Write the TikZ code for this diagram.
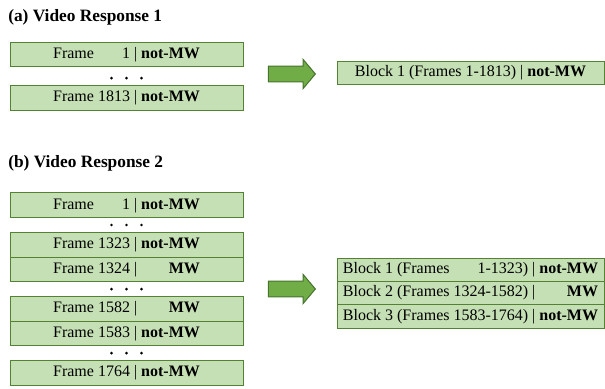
\documentclass[tikz,border=0pt]{standalone}
\usepackage{fontspec}
\setmainfont{Liberation Serif}
\usetikzlibrary{positioning,calc,shapes.arrows}
\definecolor{RowFill}{RGB}{197,224,180}
\definecolor{RowLine}{RGB}{ 84,130, 53}
\definecolor{ArrFill}{RGB}{112,173, 71}
\definecolor{ArrLine}{RGB}{ 70,115, 45}
%% 右对齐的帧号 / 标签 / 区间
\newcommand{\fno}[1]{\hphantom{1813}\llap{#1}}
\newcommand{\tagmw}[1]{\hphantom{\textbf{not-MW}}\llap{\textbf{#1}}}
\newcommand{\frng}[1]{\hphantom{1324-1582}\llap{#1}}
\tikzset{
  %% 帧行
  frow/.style={rectangle,draw=RowLine,fill=RowFill,line width=0.75pt,
               minimum width=174.75pt,minimum height=18.4pt,
               inner sep=0pt,outer sep=0pt,
               font=\fontsize{12}{14}\selectfont,align=center},
  %% 块行
  brow/.style={rectangle,draw=RowLine,fill=RowFill,line width=0.75pt,
               minimum width=200.25pt,minimum height=17.5pt,
               inner sep=0pt,outer sep=0pt,
               font=\fontsize{12}{14}\selectfont,align=center},
  %% 标题
  ttl/.style={anchor=base west,inner sep=0pt,
              font=\fontsize{13}{15}\selectfont\bfseries},
  %% 大箭头
  bigarr/.style={single arrow,draw=ArrLine,fill=ArrFill,line width=0.75pt,
                 minimum height=35.25pt,inner xsep=0pt,inner ysep=5.6pt,
                 single arrow head extend=4.9pt,single arrow tip angle=100},
}

\begin{document}
\begin{tikzpicture}[x=0.75pt,y=-0.75pt]
  \useasboundingbox (0,0) rectangle (605,388);
  %% (a)
  \node[ttl] (TA) at (8,22) {(a) Video Response 1};
  \node[frow] (A1) at (126.5,54.5) {Frame \fno{1} | \tagmw{not-MW}};
  \node[frow,below=14.25pt of A1] (A2) {Frame 1813 | \tagmw{not-MW}};
  \coordinate (DA) at ($(A1.south)!0.6!(A2.north)$);
  \foreach \dx in {-15,0,15} \fill ($(DA)+(\dx,0)$) circle (1.1pt);
  \node[bigarr] (ARA) at (288.5,74) {};
  \node[brow] (BA) at (470.5,73) {Block 1 (Frames 1-1813) | \textbf{not-MW}};

  %% (b)
  \node[ttl] (TB) at (8,167) {(b) Video Response 2};
  \node[frow] (B1) at (126.5,205.25) {Frame \fno{1} | \tagmw{not-MW}};
  \node[frow,below=11.25pt of B1] (B2) {Frame 1323 | \tagmw{not-MW}};
  \node[frow,below=0pt of B2] (B3) {Frame 1324 | \tagmw{MW}};
  \node[frow,below=11.25pt of B3] (B4) {Frame 1582 | \tagmw{MW}};
  \node[frow,below=0pt of B4] (B5) {Frame 1583 | \tagmw{not-MW}};
  \node[frow,below=11.25pt of B5] (B6) {Frame 1764 | \tagmw{not-MW}};
  \coordinate (DB1) at ($(B1.south)!0.5!(B2.north)$);
  \coordinate (DB2) at ($(B3.south)!0.5!(B4.north)$);
  \coordinate (DB3) at ($(B5.south)!0.5!(B6.north)$);
  \foreach \c in {DB1,DB2,DB3}
    \foreach \dx in {-15,0,15} \fill ($(\c)+(\dx,0)$) circle (1.1pt);
  \node[bigarr] (ARB) at (288.5,289) {};
  \node[brow] (BB1) at (470.5,269.75)
        {Block 1 (Frames \frng{1-1323}) | \tagmw{not-MW}};
  \node[brow,below=0pt of BB1] (BB2) {Block 2 (Frames 1324-1582) | \tagmw{MW}};
  \node[brow,below=0pt of BB2] (BB3) {Block 3 (Frames 1583-1764) | \tagmw{not-MW}};
\end{tikzpicture}
\end{document}
